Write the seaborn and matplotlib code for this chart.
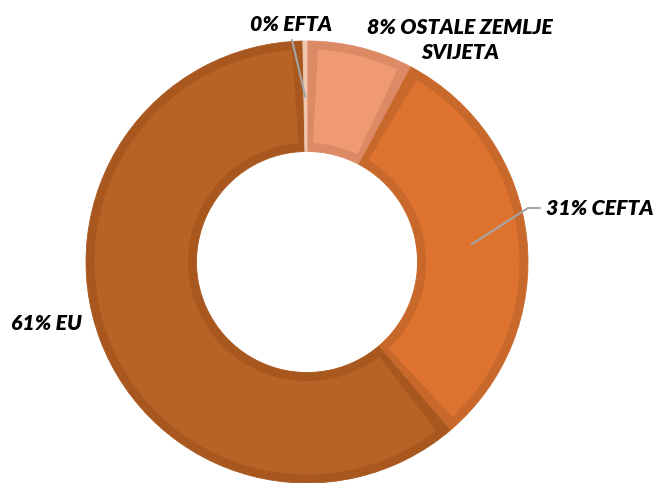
import numpy as np
import seaborn as sns
from matplotlib import pyplot as plt
from matplotlib.patches import Wedge

# Izvoz po regijama (udio u %)
regije = ['OSTALE ZEMLJE SVIJETA', 'CEFTA', 'EU', 'EFTA']
udjeli = [7.8, 31.0, 60.9, 0.3]
oznake = ['8% OSTALE ZEMLJE\nSVIJETA', '31% CEFTA', '61% EU', '0% EFTA']

boje = ['#F09A72', '#DD732F', '#B96226', '#EEC7AE']
rubovi = ['#DC8A66', '#C8682A', '#A8571F', '#EEC7AE']

sns.set_theme(style="white")
plt.rcParams['font.family'] = ['Lato', 'DejaVu Sans']

W, H = 656, 483
cx, cy, R = 307, 262, 221   # centar i radijus u pikselima
sirina = 0.5                # sirina prstena
rub = 8.5 / R               # debljina ruba

fig = plt.figure(figsize=(W / 100, H / 100), dpi=100)
ax = fig.add_axes([0, 0, 1, 1])

# osnovni prsten u boji ruba
wedges, _ = ax.pie(
    udjeli,
    colors=rubovi,
    startangle=90,
    counterclock=False,
    radius=1,
    wedgeprops=dict(width=sirina, linewidth=0.6),
)
for w in wedges:
    w.set_edgecolor(w.get_facecolor())

# unutarnji dio svakog isjecka (rub ostaje s unutarnje strane)
r_sr = 1 - sirina / 2
d_kut = np.degrees(rub / r_sr)
for w, fc in zip(wedges, boje):
    if w.theta2 - w.theta1 > 4 * d_kut:
        ax.add_patch(Wedge((0, 0), 1 - rub, w.theta1 + d_kut, w.theta2 - d_kut,
                           width=sirina - 2 * rub, facecolor=fc, linewidth=0))

ax.set_xlim(-cx / R, (W - cx) / R)
ax.set_ylim(-(H - cy) / R, cy / R)
ax.set_aspect('equal')
ax.axis('off')


def px(x, y):
    return (x - cx) / R, (cy - y) / R


def sredina(w, r=0.75):
    a = np.deg2rad((w.theta1 + w.theta2) / 2)
    return r * np.cos(a), r * np.sin(a)


tekst = dict(fontsize=15.3, fontweight='heavy', fontstyle='italic', color='black')
linija = dict(color='#A5A5A5', lw=1.5)

# OSTALE ZEMLJE SVIJETA
ax.text(*px(460, 40), oznake[0], ha='center', va='center', linespacing=1.35, **tekst)

# CEFTA
x0, y0 = sredina(wedges[1])
xa, ya = px(528, 208)
xb, yb = px(540, 208)
ax.plot([x0, xa, xb], [y0, ya, yb], **linija)
ax.text(*px(546, 208), oznake[1], ha='left', va='center', **tekst)

# EU
ax.text(*px(11, 323), oznake[2], ha='left', va='center', **tekst)

# EFTA
x0, y0 = sredina(wedges[3], r=0.746)
xa, ya = px(292, 40)
ax.plot([x0, xa], [y0, ya], **linija)
ax.text(*px(291, 24), oznake[3], ha='center', va='center', **tekst)

plt.savefig('out.png', dpi=100)
